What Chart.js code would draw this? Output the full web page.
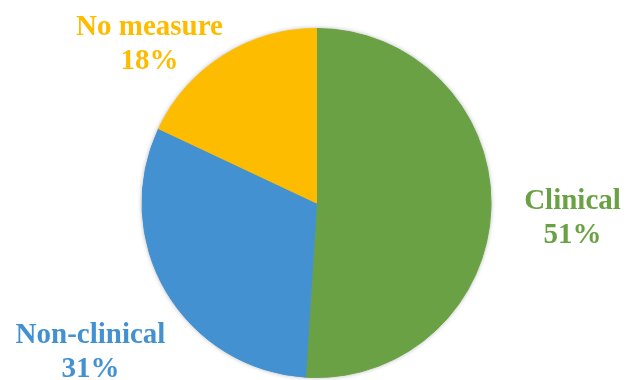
<!DOCTYPE html>
<html>
<head>
<meta charset="utf-8">
<script src="https://cdn.jsdelivr.net/npm/chart.js@4"></script>
<style>
  html, body { margin: 0; padding: 0; background: #fff; }
  #wrap { width: 633px; height: 380px; position: relative; }
</style>
</head>
<body>
<div id="wrap"><canvas id="chart"></canvas></div>
<script>
const categories = ['Clinical', 'Non-clinical', 'No measure'];
const shares = [51, 31, 18];
const sliceColors = ['#6aa145', '#4391d1', '#fdbc00'];

// where each label block sits (first baseline), relative to the pie centre
const labelOffsets = [[256, 6], [-226, 140], [-167, -168]];

// soft shadow under the whole pie, drawn once so no seams show between slices
const pieShadow = {
  id: 'pieShadow',
  beforeDatasetsDraw(chart) {
    const ctx = chart.ctx;
    const arc = chart.getDatasetMeta(0).data[0];
    ctx.save();
    ctx.shadowColor = 'rgba(0,0,0,0.4)';
    ctx.shadowBlur = 5;
    ctx.fillStyle = '#ffffff';
    ctx.beginPath();
    ctx.arc(arc.x, arc.y, arc.outerRadius - 0.5, 0, Math.PI * 2);
    ctx.fill();
    ctx.restore();
  }
};

const sliceLabels = {
  id: 'sliceLabels',
  afterDraw(chart) {
    const ctx = chart.ctx;
    const arc = chart.getDatasetMeta(0).data[0];
    const cx = arc.x, cy = arc.y;
    ctx.save();
    ctx.font = 'bold 29px "Liberation Serif", "Times New Roman", serif';
    ctx.textAlign = 'center';
    ctx.textBaseline = 'alphabetic';
    categories.forEach((name, i) => {
      const [dx, dy] = labelOffsets[i];
      ctx.fillStyle = sliceColors[i];
      ctx.fillText(name, cx + dx, cy + dy);
      ctx.fillText(shares[i] + '%', cx + dx, cy + dy + 34);
    });
    ctx.restore();
  }
};

new Chart('chart', {
  type: 'pie',
  data: {
    labels: categories,
    datasets: [{
      data: shares,
      backgroundColor: sliceColors,
      borderColor: sliceColors,
      borderWidth: 1
    }]
  },
  options: {
    responsive: true,
    maintainAspectRatio: false,
    animation: false,
    layout: { padding: { top: 28, bottom: 2, left: 0, right: 0 } },
    plugins: {
      legend: { display: false },
      tooltip: { enabled: false }
    }
  },
  plugins: [pieShadow, sliceLabels]
});
</script>
</body>
</html>
